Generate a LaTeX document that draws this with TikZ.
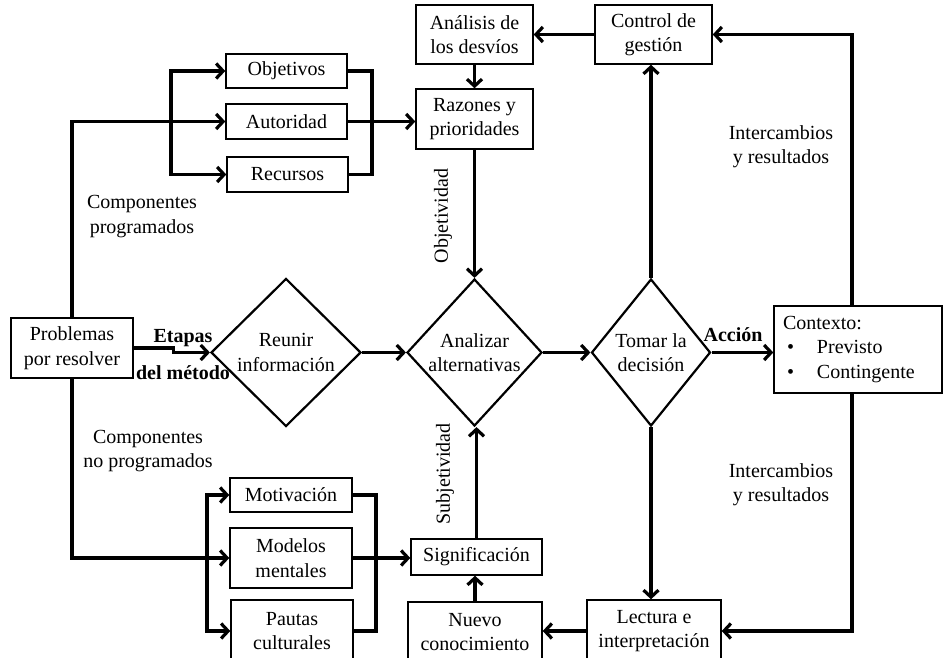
\documentclass[tikz,border=0pt]{standalone}
\usepackage{fontspec}
\setmainfont{Liberation Serif}
\usetikzlibrary{arrows.meta,shapes.geometric}
\begin{document}
\begin{tikzpicture}[x=1pt,y=-1pt,
  txt/.style={font=\fontsize{20pt}{24.5pt}\selectfont, align=center},
  box/.style={txt, draw, line width=1.4pt, inner sep=0pt, fill=white},
  dia/.style={txt, draw, shape=diamond, line width=2.2pt, inner sep=-6pt, fill=white},
  conn/.style={line width=3.2pt, -{Straight Barb[length=7pt,width=15pt]}},
  plain/.style={line width=3.2pt},
  lbl/.style={font=\fontsize{20pt}{24pt}\selectfont\bfseries}]
\path[use as bounding box] (0,0) rectangle (943,658);
\clip (0,0) rectangle (943,658);

% upper group: programmed components
\node[box, minimum width=121pt, minimum height=34pt] (obj) at (286.5,71) {Objetivos};
\node[box, minimum width=121pt, minimum height=35pt] (aut) at (286.5,121.5) {Autoridad};
\node[box, minimum width=121pt, minimum height=35pt] (rec) at (287.5,174.5) {Recursos};

% control loop boxes
\node[box, minimum width=117pt, minimum height=59pt] (ana) at (474.5,34.5) {Análisis de\\los desvíos};
\node[box, minimum width=117pt, minimum height=59pt] (ctrl) at (653.5,34.5) {Control de\\gestión};
\node[box, minimum width=117pt, minimum height=60pt] (raz) at (474.5,119) {Razones y\\prioridades};

% main row
\node[box, minimum width=122pt, minimum height=60pt] (prob) at (72,348) {Problemas\\por resolver};
\node[dia, minimum width=150pt, minimum height=148pt] (reu) at (286,352.5) {Reunir\\información};
\node[dia, minimum width=135pt, minimum height=147pt] (anz) at (474.5,352.5) {Analizar\\alternativas};
\node[dia, minimum width=119pt, minimum height=147pt] (tom) at (651,352.5) {Tomar la\\decisión};
\node[box, minimum width=168pt, minimum height=87pt, text width=150pt, align=left, inner xsep=9pt] (ctx) at (858,349.5)
  {Contexto:\\\hspace*{4pt}\makebox[30pt][l]{•}Previsto\\\hspace*{4pt}\makebox[30pt][l]{•}Contingente};

% lower group: non-programmed components
\node[box, minimum width=122pt, minimum height=34pt] (mot) at (291,495) {Motivación};
\node[box, minimum width=122pt, minimum height=60pt] (mod) at (291,558) {Modelos\\mentales};
\node[box, minimum width=122pt, minimum height=62pt] (pau) at (292,631) {Pautas\\culturales};
\node[box, minimum width=131pt, minimum height=36pt] (sig) at (476.5,557) {Significación};
\node[box, minimum width=134pt, minimum height=60pt] (nue) at (475,632) {Nuevo\\conocimiento};
\node[box, minimum width=134pt, minimum height=62pt] (lec) at (654,631) {Lectura e\\interpretación};

% free labels
\node[txt] (lprog) at (142,216.5) {Componentes\\programados};
\node[txt] (lnoprog) at (148,451) {Componentes\\no programados};
\node[lbl] (letapas) at (183,338) {Etapas};
\node[lbl] (lmetodo) at (183,373) {del método};
\node[lbl] (laccion) at (733,335) {Acción};
\node[txt] (linter1) at (781,146.5) {Intercambios\\y resultados};
\node[txt] (linter2) at (781,484.5) {Intercambios\\y resultados};
\node[txt, rotate=90] (lobj) at (443,216) {Objetividad};
\node[txt, rotate=90] (lsub) at (445,474) {Subjetividad};

% junction points of the buses
\coordinate (lb) at (171,121.5);
\coordinate (rb) at (372,121.5);
\coordinate (lq) at (207,558);
\coordinate (rq) at (376,558);
\coordinate (rx) at (852,352);

% connectors: upper group
\draw[conn] (prob.north) |- (aut.west);
\draw[conn] (lb) |- (obj.west);
\draw[conn] (lb) |- (rec.west);
\draw[plain] (obj.east) -| (rb);
\draw[plain] (rec.east) -| (rb);
\draw[conn] (aut.east) -- (aut.east -| raz.west);

% connectors: control loop
\draw[conn] (ctrl.west) -- (ana.east);
\draw[conn] (ana.south) -- (raz.north);
\draw[conn] (raz.south) -- (anz.north);

% connectors: main row
\draw[conn] (prob.east) -- ++(40,0) |- (reu.west);
\draw[conn] (reu.east) -- (anz.west);
\draw[conn] (anz.east) -- (tom.west);
\draw[conn] (tom.east) -- (tom.east -| ctx.west);
\draw[conn] (tom.north) -- (tom.north |- ctrl.south);
\draw[conn] (tom.south) -- (tom.south |- lec.north);
\draw[conn] (rx |- ctx.north) |- (ctrl.east);
\draw[conn] (rx |- ctx.south) |- (lec.east);

% connectors: lower group
\draw[conn] (prob.south) |- (mod.west);
\draw[conn] (lq) |- (mot.west);
\draw[conn] (lq) |- (pau.west);
\draw[plain] (mot.east) -| (rq);
\draw[plain] (pau.east) -| (rq);
\draw[conn] (mod.east) -- (mod.east -| sig.west);
\draw[conn] (lec.west) -- (lec.west -| nue.east);
\draw[conn] (nue.north) -- (nue.north |- sig.south);
\draw[conn] (sig.north) -- (sig.north |- anz.south);
\end{tikzpicture}
\end{document}
